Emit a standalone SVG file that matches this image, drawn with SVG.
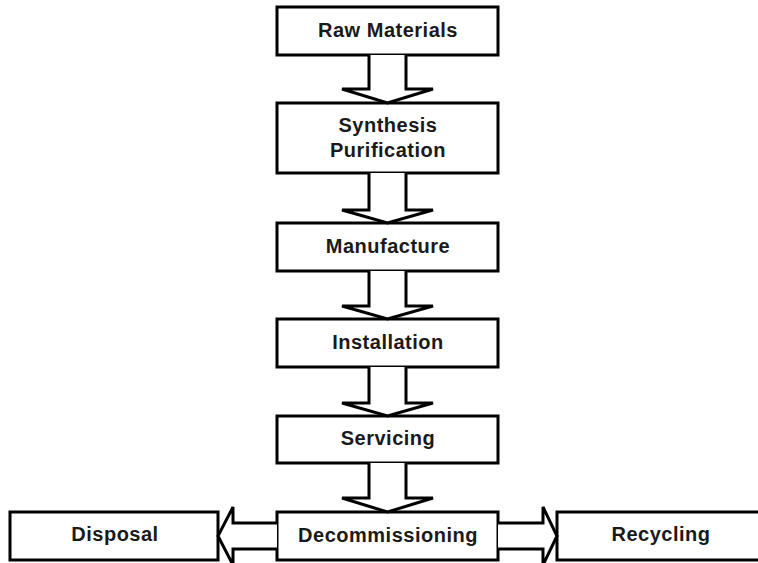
<svg xmlns="http://www.w3.org/2000/svg" width="758" height="563" viewBox="0 0 758 563">
<style>
.box{fill:#fff;stroke:#000;stroke-width:3}
.arr{fill:#fff;stroke:#000;stroke-width:3;stroke-linejoin:miter}
.t{font-family:"Liberation Sans",Arial,sans-serif;font-weight:bold;font-size:20px;letter-spacing:0.5px;text-anchor:middle;fill:#1a1a1a}
</style>
<rect width="758" height="563" fill="#fff"/>
<g id="n-raw"><rect class="box" x="277" y="7" width="221" height="48"/><text class="t" x="388" y="37">Raw Materials</text></g>
<g id="n-synth"><rect class="box" x="277" y="103" width="221" height="70"/><text class="t" x="388" y="132">Synthesis</text><text class="t" x="388" y="157">Purification</text></g>
<g id="n-manuf"><rect class="box" x="277" y="223" width="221" height="48"/><text class="t" x="388" y="253">Manufacture</text></g>
<g id="n-install"><rect class="box" x="277" y="319" width="221" height="48"/><text class="t" x="388" y="349">Installation</text></g>
<g id="n-serv"><rect class="box" x="277" y="416" width="221" height="47"/><text class="t" x="388" y="445">Servicing</text></g>
<g id="n-decom"><rect class="box" x="277" y="512" width="221" height="48"/><text class="t" x="388" y="542">Decommissioning</text></g>
<g id="n-disp"><rect class="box" x="10" y="512" width="208" height="48"/><text class="t" x="115" y="541">Disposal</text></g>
<g id="n-recy"><rect class="box" x="557" y="512" width="210" height="48"/><text class="t" x="661" y="541">Recycling</text></g>
<g id="connectors">
<path class="arr" d="M369,55 V89 H342 L387.5,103 L433,89 H406 V55"/>
<path class="arr" d="M369,173 V210 H342 L387.5,223 L433,210 H406 V173"/>
<path class="arr" d="M369,271 V306 H342 L387.5,319 L433,306 H406 V271"/>
<path class="arr" d="M369,367 V403 H342 L387.5,416 L433,403 H406 V367"/>
<path class="arr" d="M369,463 V498 H342 L387.5,512 L433,498 H406 V463"/>
<path class="arr" d="M277,523 H233 V507 L218,536 L233,565 V549 H277"/>
<path class="arr" d="M498,523 H543 V507 L557,536 L543,565 V549 H498"/>
</g>
</svg>
